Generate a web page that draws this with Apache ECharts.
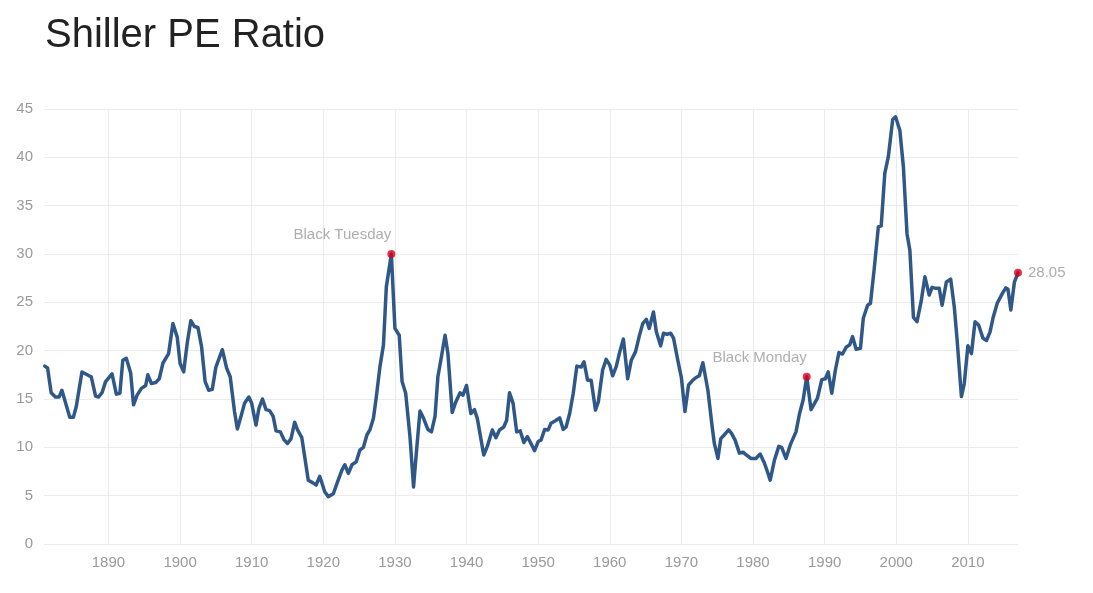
<!DOCTYPE html>
<html>
<head>
<meta charset="utf-8">
<title>Shiller PE Ratio</title>
<script src="https://cdn.jsdelivr.net/npm/echarts@6/dist/echarts.min.js"></script>
<style>
    html, body { margin: 0; padding: 0; background: #fff; }
    #chart { width: 1093px; height: 593px; }
</style>
</head>
<body>
<div id="chart"></div>
<script>
// Years (fractional) and Shiller PE values
const years = [
    1881.1, 1881.5, 1882.0, 1882.6, 1883.1, 1883.5, 1884.6, 1885.1, 1885.5, 1886.3,
    1887.3, 1887.6, 1888.2, 1888.6, 1889.1, 1889.6, 1890.5, 1891.1, 1891.6, 1892.0,
    1892.5, 1893.1, 1893.5, 1894.0, 1894.6, 1895.2, 1895.5, 1896.0, 1896.6, 1897.1,
    1897.6, 1898.4, 1899.0, 1899.6, 1900.0, 1900.5, 1901.0, 1901.5, 1902.0, 1902.5,
    1903.0, 1903.5, 1904.0, 1904.5, 1905.0, 1905.9, 1906.5, 1907.0, 1907.6, 1908.0,
    1908.5, 1909.0, 1909.6, 1910.0, 1910.6, 1911.0, 1911.5, 1912.0, 1912.5, 1913.0,
    1913.4, 1914.0, 1914.5, 1915.0, 1915.5, 1916.0, 1916.4, 1917.0, 1917.9, 1918.5,
    1919.0, 1919.5, 1920.2, 1920.7, 1921.4, 1922.0, 1922.6, 1923.0, 1923.5, 1924.0,
    1924.6, 1925.1, 1925.6, 1926.1, 1926.5, 1927.0, 1927.4, 1927.9, 1928.4, 1928.8,
    1929.5, 1930.0, 1930.6, 1931.0, 1931.5, 1932.1, 1932.6, 1933.0, 1933.5, 1934.0,
    1934.6, 1935.1, 1935.6, 1936.0, 1936.5, 1937.0, 1937.4, 1938.0, 1938.5, 1939.1,
    1939.5, 1940.0, 1940.6, 1941.1, 1941.5, 1942.0, 1942.4, 1942.9, 1943.6, 1944.1,
    1944.6, 1945.2, 1945.6, 1946.0, 1946.5, 1947.0, 1947.5, 1948.0, 1948.5, 1949.1,
    1949.5, 1950.0, 1950.4, 1950.9, 1951.4, 1951.8, 1952.4, 1953.0, 1953.5, 1953.9,
    1954.4, 1954.9, 1955.4, 1956.0, 1956.4, 1956.9, 1957.4, 1958.0, 1958.4, 1959.0,
    1959.5, 1960.0, 1960.4, 1960.9, 1961.4, 1961.9, 1962.5, 1963.0, 1963.6, 1964.1,
    1964.6, 1965.1, 1965.5, 1966.1, 1966.5, 1967.1, 1967.5, 1968.0, 1968.5, 1968.9,
    1969.5, 1970.0, 1970.5, 1971.0, 1971.6, 1972.0, 1972.5, 1973.0, 1973.7, 1974.3,
    1974.6, 1975.1, 1975.5, 1976.0, 1976.6, 1977.0, 1977.5, 1978.1, 1978.6, 1979.1,
    1979.7, 1980.4, 1981.0, 1981.6, 1982.0, 1982.4, 1983.0, 1983.6, 1984.0, 1984.6,
    1985.2, 1986.0, 1986.5, 1987.0, 1987.5, 1988.1, 1989.0, 1989.6, 1990.1, 1990.5,
    1991.0, 1991.5, 1992.0, 1992.5, 1993.0, 1993.5, 1993.9, 1994.4, 1995.0, 1995.4,
    1996.0, 1996.4, 1996.9, 1997.5, 1997.9, 1998.4, 1998.9, 1999.5, 1999.9, 2000.5,
    2001.0, 2001.5, 2001.9, 2002.4, 2002.9, 2003.5, 2004.0, 2004.6, 2005.0, 2005.5,
    2006.0, 2006.4, 2007.0, 2007.6, 2008.1, 2008.5, 2009.1, 2009.5, 2010.0, 2010.5,
    2011.0, 2011.5, 2012.1, 2012.6, 2013.1, 2013.5, 2014.1, 2014.8, 2015.3, 2015.6,
    2016.0, 2016.5, 2017.0
];

const pe = [
    18.4, 18.2, 15.65, 15.2, 15.2, 15.9, 13.1, 13.1, 14.2, 17.8,
    17.4, 17.3, 15.3, 15.2, 15.65, 16.8, 17.6, 15.5, 15.6, 19.0,
    19.2, 17.7, 14.4, 15.4, 16.1, 16.4, 17.5, 16.6, 16.7, 17.1,
    18.7, 19.7, 22.8, 21.4, 18.7, 17.8, 20.8, 23.1, 22.5, 22.4,
    20.4, 16.8, 15.9, 16.0, 18.3, 20.1, 18.2, 17.3, 13.7, 11.9,
    13.2, 14.55, 15.2, 14.55, 12.3, 14.0, 15.0, 13.9, 13.8, 13.2,
    11.7, 11.6, 10.8, 10.4, 10.9, 12.6, 11.8, 11.0, 6.6, 6.35,
    6.1, 7.0, 5.4, 4.9, 5.2, 6.45, 7.65, 8.2, 7.3, 8.2,
    8.5, 9.7, 10.0, 11.3, 11.8, 13.0, 15.2, 18.3, 20.6, 26.6,
    30.0, 22.3, 21.6, 16.8, 15.6, 11.1, 5.9, 9.5, 13.75, 13.0,
    11.85, 11.6, 13.2, 17.3, 19.4, 21.6, 19.7, 13.6, 14.7, 15.65,
    15.4, 16.4, 13.5, 13.9, 13.0, 10.9, 9.2, 10.1, 11.8, 11.0,
    11.8, 12.1, 12.8, 15.65, 14.55, 11.6, 11.7, 10.5, 11.1, 10.25,
    9.65, 10.6, 10.75, 11.85, 11.8, 12.5, 12.75, 13.05, 11.85, 12.1,
    13.5, 15.6, 18.4, 18.3, 18.85, 16.95, 16.95, 13.85, 14.7, 18.0,
    19.1, 18.5, 17.4, 18.35, 19.9, 21.2, 17.1, 19.0, 19.9, 21.45,
    22.8, 23.25, 22.3, 24.0, 21.95, 20.5, 21.8, 21.7, 21.8, 21.3,
    19.0, 17.2, 13.7, 16.45, 16.95, 17.2, 17.4, 18.75, 15.9, 12.1,
    10.4, 8.85, 10.9, 11.3, 11.8, 11.45, 10.75, 9.4, 9.5, 9.2,
    8.85, 8.85, 9.3, 8.35, 7.5, 6.6, 8.7, 10.1, 10.0, 8.85,
    10.25, 11.6, 13.5, 14.9, 17.3, 13.9, 15.1, 17.0, 17.1, 17.8,
    15.6, 18.0, 19.8, 19.65, 20.35, 20.6, 21.45, 20.15, 20.25, 23.35,
    24.7, 24.9, 28.3, 32.8, 32.9, 38.35, 40.1, 43.9, 44.2, 42.8,
    39.0, 32.1, 30.4, 23.45, 23.0, 25.2, 27.65, 25.75, 26.55, 26.45,
    26.45, 24.7, 27.1, 27.4, 24.55, 21.1, 15.25, 16.6, 20.5, 19.7,
    23.0, 22.65, 21.3, 21.05, 21.95, 23.35, 24.9, 25.9, 26.5, 26.35,
    24.2, 27.1, 28.05
];

// Marked events
const eventYears = [1929.5, 1987.5, 2017.0];
const eventValues = [30.0, 17.3, 28.05];
const eventNames = ['Black Tuesday', 'Black Monday', '28.05'];

const xTicks = [1890, 1900, 1910, 1920, 1930, 1940, 1950, 1960, 1970, 1980, 1990, 2000, 2010];

const GRAY_TEXT = '#9a9a9a';
const GRID_LINE = '#ececec';
const FONT = 'Liberation Sans, Arial, sans-serif';

const chart = echarts.init(document.getElementById('chart'), null, { renderer: 'canvas' });

const lineData = years.map((y, i) => [y, pe[i]]);

const eventData = eventYears.map((y, i) => {
    const isLast = i === eventYears.length - 1;
    return {
        value: [y, eventValues[i]],
        label: isLast
            ? { show: true, position: 'right', distance: 6, formatter: eventNames[i] }
            : { show: true, position: 'left', distance: 0, offset: [4, -19], formatter: eventNames[i] }
    };
});

chart.setOption({
    animation: false,
    backgroundColor: '#fff',
    title: {
        text: 'Shiller PE Ratio',
        left: 40,
        top: 11,
        textStyle: {
            fontFamily: FONT,
            fontSize: 40,
            fontWeight: 'normal',
            color: '#222'
        }
    },
    grid: { left: 44, right: 75, top: 109, bottom: 49 },
    xAxis: {
        type: 'value',
        min: 1881,
        max: 2017,
        axisLine: { show: false },
        axisTick: { show: false, customValues: xTicks },
        axisLabel: {
            customValues: xTicks,
            formatter: (v) => String(v),
            margin: 11,
            color: GRAY_TEXT,
            fontSize: 15,
            fontFamily: FONT
        },
        splitLine: { show: true, lineStyle: { color: GRID_LINE, width: 1 } }
    },
    yAxis: {
        type: 'value',
        min: 0,
        max: 45,
        interval: 5,
        axisLine: { show: false },
        axisTick: { show: false },
        axisLabel: {
            margin: 11,
            color: GRAY_TEXT,
            fontSize: 15,
            fontFamily: FONT
        },
        splitLine: { show: true, lineStyle: { color: GRID_LINE, width: 1 } }
    },
    series: [
        {
            type: 'line',
            data: lineData,
            showSymbol: false,
            symbol: 'none',
            lineStyle: { color: '#2f5889', width: 3.5, join: 'round', cap: 'round' },
            z: 2
        },
        {
            type: 'scatter',
            data: eventData,
            symbolSize: 8,
            clip: false,
            itemStyle: { color: '#d9001b' },
            label: {
                color: GRAY_TEXT,
                fontSize: 15,
                fontFamily: FONT
            },
            z: 3
        }
    ]
});

window.addEventListener('resize', () => {
    chart.resize();
});
</script>
</body>
</html>
